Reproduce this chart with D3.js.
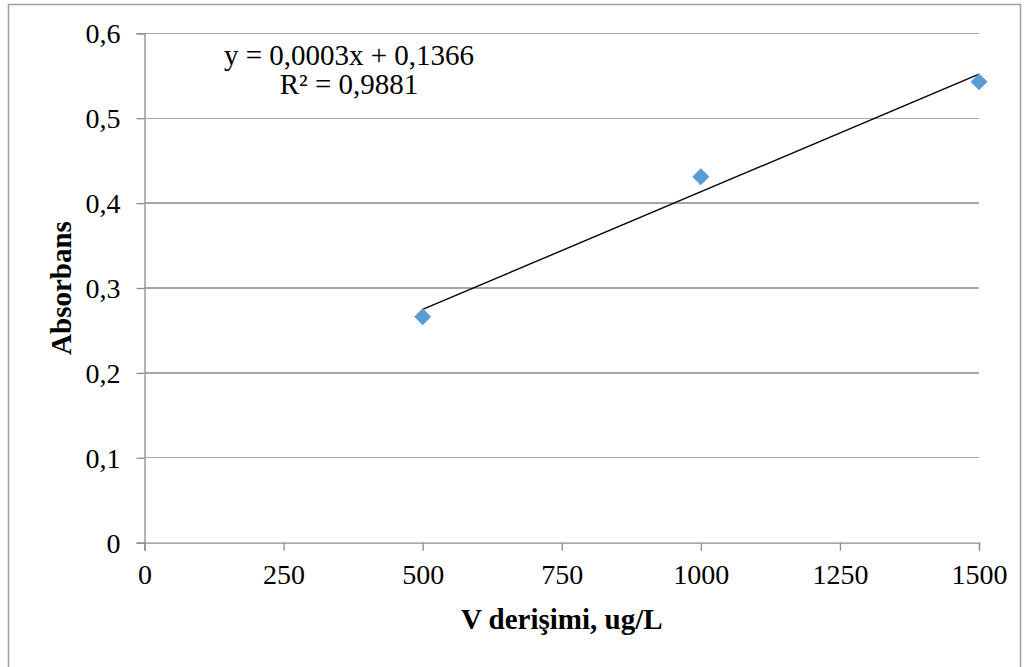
<!DOCTYPE html>
<html><head><meta charset="utf-8">
<script src="https://cdn.jsdelivr.net/npm/d3@7"></script>
<style>body{margin:0;background:#fff}svg{display:block}text{font-family:"Liberation Serif","Times New Roman",serif;fill:#000}</style>
</head><body><svg id="c" width="1027" height="667"></svg>
<script>
const concentrations = [500, 1000, 1500];
const absorbances = [0.266, 0.431, 0.543];
const xTicks = [0, 250, 500, 750, 1000, 1250, 1500];
const yTicks = [0, 0.1, 0.2, 0.3, 0.4, 0.5, 0.6];
const equationLines = ["y = 0,0003x + 0,1366", "R² = 0,9881"];
const xTitle = "V derişimi, ug/L";
const yTitle = "Absorbans";

const svg = d3.select("#c");
const x = d3.scaleLinear().domain([0, 1500]).range([144.5, 979]);
const y = d3.scaleLinear().domain([0, 0.6]).range([542.7, 33.3]);
const fmt = d => String(+d.toFixed(1)).replace(".", ",");

svg.append("rect").attr("x", 8.5).attr("y", 4.5).attr("width", 1012).attr("height", 680)
  .attr("fill", "none").attr("stroke", "#a0a0a0").attr("stroke-width", 1.5);

// gridlines
svg.append("g").selectAll("line").data(yTicks.filter(d => d > 0)).join("line")
  .attr("x1", x(0)).attr("x2", x(1500)).attr("y1", d => y(d)).attr("y2", d => y(d))
  .attr("stroke", "#a6a6a6").attr("stroke-width", 1.3).attr("shape-rendering", "crispEdges");

// y axis
const ya = svg.append("g").attr("transform", `translate(${x(0)},0)`)
  .call(d3.axisLeft(y).tickValues(yTicks).tickSize(8).tickPadding(16).tickFormat(fmt));
// x axis
const xa = svg.append("g").attr("transform", `translate(0,${y(0)})`)
  .call(d3.axisBottom(x).tickValues(xTicks).tickSize(8).tickPadding(12).tickFormat(d => d));
[ya, xa].forEach(a => {
  a.selectAll("path,line").attr("stroke", "#8c8c8c").attr("stroke-width", 1.3);
  a.selectAll("text").style("font-size", "28px").attr("fill", "#000");
});
ya.selectAll("text").attr("dy", "0.34em");
xa.selectAll("text").attr("dy", "0.75em");

// trendline from least squares
const mx = d3.mean(concentrations), my = d3.mean(absorbances);
const slope = d3.sum(concentrations, (c, i) => (c - mx) * (absorbances[i] - my)) / d3.sum(concentrations, c => (c - mx) ** 2);
const icpt = my - slope * mx;
const xr = d3.extent(concentrations);
svg.append("line").attr("x1", x(xr[0])).attr("y1", y(slope * xr[0] + icpt))
  .attr("x2", x(xr[1])).attr("y2", y(slope * xr[1] + icpt))
  .attr("stroke", "#000").attr("stroke-width", 1.4);

// markers
svg.append("g").selectAll("path").data(concentrations).join("path")
  .attr("transform", (d, i) => `translate(${x(d)},${y(absorbances[i])})`)
  .attr("d", "M0,-8.5L8.5,0L0,8.5L-8.5,0Z").attr("fill", "#5b9bd5");

// equation
svg.append("g").selectAll("text").data(equationLines).join("text")
  .attr("x", 349).attr("y", (d, i) => 65 + i * 29).attr("text-anchor", "middle")
  .style("font-size", "29px").text(d => d);

svg.append("text").attr("x", (x(0) + x(1500)) / 2).attr("y", 629).attr("text-anchor", "middle")
  .style("font-size", "29px").style("font-weight", "bold").text(xTitle);
svg.append("text").attr("transform", `translate(71,${(y(0) + y(0.6)) / 2}) rotate(-90)`)
  .attr("text-anchor", "middle").style("font-size", "29px").style("font-weight", "bold").text(yTitle);
</script></body></html>
